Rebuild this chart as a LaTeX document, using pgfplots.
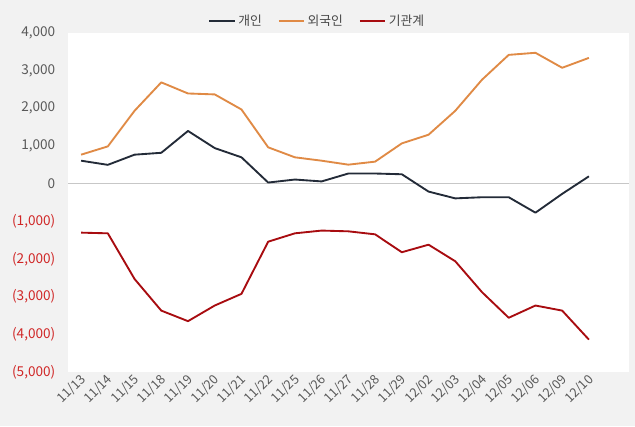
\documentclass[border=0pt]{standalone}
\usepackage{pgfplots}
\pgfplotsset{compat=1.18}
\usepackage{fontspec}
\setmainfont{Noto Sans CJK KR}
\definecolor{bggray}{HTML}{F2F2F2}
\definecolor{txtgray}{HTML}{595959}
\definecolor{negred}{HTML}{D02626}
\definecolor{indiv}{HTML}{232B38}
\definecolor{foreign}{HTML}{E08A45}
\definecolor{inst}{HTML}{A80C10}

\begin{document}
\begin{tikzpicture}
\fill[bggray] (0pt,0pt) rectangle (476.25pt,319.5pt);
\useasboundingbox (0pt,0pt) rectangle (476.25pt,319.5pt);
\begin{axis}[
    at={(51pt,40.5pt)}, anchor=south west,
    scale only axis,
    width=420.75pt, height=254.25pt,
    axis background/.style={fill=white},
    axis line style={draw=none},
    major tick length=0pt,
    xmin=-0.49, xmax=20.5,
    ymin=-5000, ymax=4000,
    xtick={0,...,19},
    xticklabels={11/13,11/14,11/15,11/18,11/19,11/20,11/21,11/22,11/25,11/26,11/27,11/28,11/29,12/02,12/03,12/04,12/05,12/06,12/09,12/10},
    xticklabel style={rotate=45, anchor=east, font=\fontsize{9.6}{11}\selectfont, text=txtgray, yshift=-4pt, xshift=2pt},
    ytick={-5000,-4000,...,4000},
    yticklabels={\textcolor{negred}{(5,000)},\textcolor{negred}{(4,000)},\textcolor{negred}{(3,000)},\textcolor{negred}{(2,000)},\textcolor{negred}{(1,000)},0,{1,000},{2,000},{3,000},{4,000}},
    yticklabel style={font=\fontsize{10.2}{12}\selectfont, text=txtgray, xshift=-6pt},
    extra y ticks={0}, extra y tick labels={},
    extra y tick style={grid=major, grid style={draw=black!22, line width=0.7pt}},
    legend style={at={(rel axis cs:0.445,1.036)}, anchor=center, draw=none, fill=none,
        font=\fontsize{9.6}{11}\selectfont, text=txtgray!80!black,
        /tikz/every even column/.append style={column sep=10pt}},
    legend columns=-1,
    legend image code/.code={\draw[#1] (0pt,0pt) -- (19pt,0pt);},
    every axis plot/.append style={line width=1.4pt, line join=round},
]
\addplot[indiv] coordinates {
(0,610) (1,500) (2,770) (3,820) (4,1400) (5,945) (6,700) (7,30) (8,110) (9,60)
(10,270) (11,270) (12,250) (13,-210) (14,-390) (15,-360) (16,-360) (17,-770) (18,-270) (19,195)};
\addplot[foreign] coordinates {
(0,770) (1,990) (2,1935) (3,2690) (4,2395) (5,2370) (6,1970) (7,965) (8,700) (9,610)
(10,505) (11,585) (12,1070) (13,1300) (14,1935) (15,2760) (16,3420) (17,3475) (18,3077) (19,3340)};
\addplot[inst] coordinates {
(0,-1300) (1,-1318) (2,-2530) (3,-3370) (4,-3650) (5,-3235) (6,-2925) (7,-1540) (8,-1318) (9,-1245)
(10,-1265) (11,-1345) (12,-1820) (13,-1620) (14,-2060) (15,-2880) (16,-3560) (17,-3235) (18,-3370) (19,-4140)};
\legend{개인,외국인,기관계}
\end{axis}
\end{tikzpicture}
\end{document}
